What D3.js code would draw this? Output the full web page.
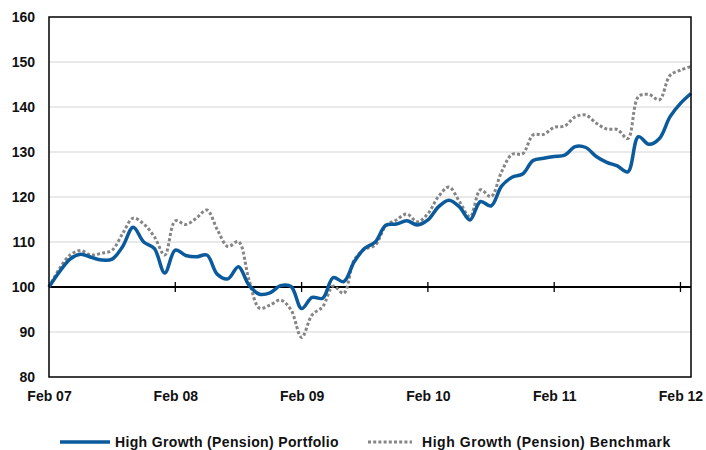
<!DOCTYPE html>
<meta charset="utf-8">
<style>
  body { margin: 0; background: #fff; }
  text { font-family: "Liberation Sans", Arial, sans-serif; font-weight: bold; fill: #111; }
</style>
<body>
<script src="https://d3js.org/d3.v7.min.js"></script>
<script>
var width = 706,
    height = 450,
    margin = {top: 17, right: 15, bottom: 73, left: 49};

// monthly index values, Feb 07 .. Mar 12
var portfolio = [100, 103.4, 106.2, 107.3, 106.6, 106, 106.2, 109, 113.3, 110, 108.6, 103.1,
  108.2, 107, 106.7, 107.1, 102.8, 101.8, 104.5, 100.4, 98.4, 98.7, 100.3, 100.1,
  95.2, 97.7, 97.5, 102.1, 101.2, 105.6, 108.6, 110, 113.7, 114, 114.7, 113.8,
  114.9, 117.8, 119.3, 117.8, 114.9, 119, 118, 122.4, 124.4, 125.1, 128.1, 128.6,
  129, 129.3, 131.2, 131, 129, 127.7, 126.9, 125.6, 133.4, 131.7, 133, 137.8,
  140.8, 143];
var benchmark = [100, 104.1, 107.1, 108.1, 107.1, 107.5, 108.2, 111.9, 115.3, 114, 111.2, 107.1,
  114.7, 113.9, 115.3, 117.1, 112.7, 109, 110.1, 101.6, 95.3, 96, 97.1, 94.9,
  88.8, 93.8, 95.6, 100.2, 98.6, 106, 108.4, 109.3, 113.6, 114.9, 116.2, 114.5,
  116.3, 120.1, 122.2, 119, 115.6, 121.6, 120.1, 125.6, 129.5, 129.6, 133.8, 133.9,
  135.5, 135.8, 137.8, 138.2, 136.4, 135.1, 135, 133, 142.3, 142.8, 141.6, 147,
  148.2, 149];
var tickMonths = [0, 12, 24, 36, 48, 60];
var tickLabels = ["Feb 07", "Feb 08", "Feb 09", "Feb 10", "Feb 11", "Feb 12"];
var yTicks = [80, 90, 100, 110, 120, 130, 140, 150, 160];
var seriesNames = ["High Growth (Pension) Portfolio", "High Growth (Pension) Benchmark"];

var x = d3.scaleLinear()
    .domain([0, portfolio.length - 1])
    .range([margin.left, width - margin.right]);

var y = d3.scaleLinear()
    .domain([80, 160])
    .range([height - margin.bottom, margin.top]);

var svg = d3.select("body").append("svg")
    .attr("width", width)
    .attr("height", height);

// gridlines
svg.append("g")
  .selectAll("line")
  .data(yTicks.filter(function(d) { return d != 80 && d != 100 && d != 160; }))
  .enter().append("line")
    .attr("x1", x(0)).attr("x2", x(portfolio.length - 1))
    .attr("y1", function(d) { return y(d); })
    .attr("y2", function(d) { return y(d); })
    .attr("stroke", "#d4d4d4")
    .attr("stroke-width", 1);

// y labels
var yAxis = d3.axisLeft(y).tickValues(yTicks).tickSize(0).tickPadding(14);
var gy = svg.append("g")
    .attr("transform", "translate(" + margin.left + ",0)")
    .call(yAxis);
gy.select(".domain").remove();
gy.selectAll("text").style("font-size", "14px").attr("fill", "#111");

// x labels
var xAxis = d3.axisBottom(x).tickValues(tickMonths)
    .tickFormat(function(d, i) { return tickLabels[i]; })
    .tickSize(0).tickPadding(14);
var gx = svg.append("g")
    .attr("transform", "translate(0," + (height - margin.bottom) + ")")
    .call(xAxis);
gx.select(".domain").remove();
gx.selectAll("text").style("font-size", "14px").attr("fill", "#111");

// horizontal axis at 100 with cross ticks
svg.append("line")
    .attr("x1", x(0)).attr("x2", x(portfolio.length - 1))
    .attr("y1", y(100)).attr("y2", y(100))
    .attr("stroke", "#000").attr("stroke-width", 2);
svg.append("g").selectAll("line")
  .data(tickMonths.slice(1))
  .enter().append("line")
    .attr("x1", function(d) { return x(d); })
    .attr("x2", function(d) { return x(d); })
    .attr("y1", y(100) - 5).attr("y2", y(100) + 5)
    .attr("stroke", "#000").attr("stroke-width", 1.3);

var line = d3.line()
    .x(function(d, i) { return x(i); })
    .y(function(d) { return y(d); })
    .curve(d3.curveCatmullRom.alpha(0.5));

svg.append("path")
    .datum(benchmark)
    .attr("fill", "none")
    .attr("stroke", "#858585")
    .attr("stroke-width", 3)
    .attr("stroke-dasharray", "3,2.2")
    .attr("d", line);

svg.append("path")
    .datum(portfolio)
    .attr("fill", "none")
    .attr("stroke", "#0b5a9c")
    .attr("stroke-width", 3.5)
    .attr("stroke-linejoin", "round")
    .attr("d", line);

// plot border
svg.append("rect")
    .attr("x", x(0)).attr("y", y(160))
    .attr("width", x(portfolio.length - 1) - x(0))
    .attr("height", y(80) - y(160))
    .attr("fill", "none")
    .attr("stroke", "#000")
    .attr("stroke-width", 1.5);

// legend
var legend = svg.append("g").attr("transform", "translate(0,442)");
legend.append("line")
    .attr("x1", 60).attr("x2", 110).attr("y1", 0).attr("y2", 0)
    .attr("stroke", "#0b5a9c").attr("stroke-width", 3.5);
legend.append("text")
    .attr("x", 115).attr("y", 5)
    .style("font-size", "14px")
    .style("letter-spacing", "0.35px")
    .text(seriesNames[0]);
legend.append("line")
    .attr("x1", 368).attr("x2", 412).attr("y1", 0).attr("y2", 0)
    .attr("stroke", "#858585").attr("stroke-width", 3)
    .attr("stroke-dasharray", "3,2.2");
legend.append("text")
    .attr("x", 422).attr("y", 5)
    .style("font-size", "14px")
    .style("letter-spacing", "0.55px")
    .text(seriesNames[1]);
</script>
</body>
